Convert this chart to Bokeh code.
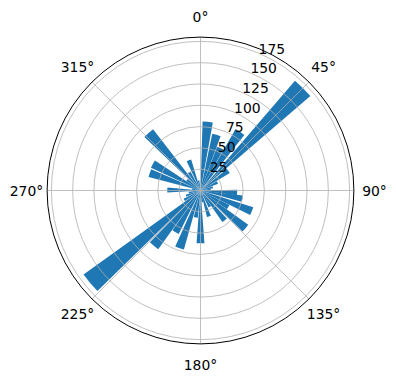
import numpy as np
from bokeh.plotting import figure
from bokeh.models import Range1d, ColumnDataSource
from bokeh.core.properties import value
from bokeh.embed import file_html
from bokeh.resources import INLINE

# compass direction of each bar (degrees, clockwise from north) and bar length
directions = [6, 16, 25, 34, 45, 55, 65, 75, 85, 93, 101, 112, 121, 130, 141, 150, 162, 170,
              180, 190, 200, 211, 220, 230, 240, 250, 260, 271, 280, 289, 299, 308, 318, 328, 339, 349]
counts = [81, 68, 55, 83, 170, 40, 22, 15, 12, 43, 50, 65, 38, 69, 45, 22, 32, 14,
          62, 32, 72, 57, 85, 169, 22, 18, 14, 39, 10, 63, 64, 20, 91, 25, 38, 12]
bar_width_deg = 8.6

r_ticks = [25, 50, 75, 100, 125, 150, 175]
r_max = 180
theta_ticks = [0, 45, 90, 135, 180, 225, 270, 315]
theta_labels = ["0°", "45°", "90°", "135°", "180°", "225°", "270°", "315°"]

FONT = "DejaVu Sans"
BLUE = "#1f77b4"
GRID = "#b0b0b0"

W, H = 396, 380
scale = 153.4 / r_max          # px per data unit
cx, cy = 200, 190              # centre in px
p = figure(width=W, height=H, output_backend="svg", toolbar_location=None,
           x_range=Range1d(-cx / scale, (W - cx) / scale),
           y_range=Range1d(-(H - cy) / scale, cy / scale),
           min_border=0, min_border_left=0, min_border_right=0,
           min_border_top=0, min_border_bottom=0)
p.axis.visible = False
p.grid.visible = False
p.outline_line_color = None
p.background_fill_color = "white"

d = np.array(directions, dtype=float)
half = bar_width_deg / 2
start = np.deg2rad(90 - (d + half))
end = np.deg2rad(90 - (d - half))
src = ColumnDataSource(dict(x=np.zeros(len(d)), y=np.zeros(len(d)), r=counts,
                            s=start, e=end))
p.wedge(x="x", y="y", radius="r", start_angle="s", end_angle="e", direction="anticlock",
        source=src, fill_color=BLUE, line_color=None)

# grid rings
p.circle(x=[0] * len(r_ticks), y=[0] * len(r_ticks), radius=r_ticks,
         fill_color=None, line_color=GRID, line_width=0.8)
# radial grid lines
ta = np.deg2rad(90 - np.array(theta_ticks, dtype=float))
p.segment(x0=np.zeros(len(ta)), y0=np.zeros(len(ta)),
          x1=r_max * np.cos(ta), y1=r_max * np.sin(ta),
          line_color=GRID, line_width=0.8)
# outer spine
p.circle(x=[0], y=[0], radius=[r_max], fill_color=None, line_color="black", line_width=1)

# angle labels
lab_r = 174 / scale
p.text(x=lab_r * np.cos(ta), y=lab_r * np.sin(ta), text=theta_labels,
       text_align="center", text_baseline="middle",
       text_font=value(FONT), text_font_size="13.9px", text_color="black")

# radial tick labels along 22.5°
ra = np.deg2rad(90 - 22.5)
rt = np.array(r_ticks, dtype=float)
p.text(x=rt * np.cos(ra), y=rt * np.sin(ra), text=[str(v) for v in r_ticks],
       text_align="left", text_baseline="bottom", x_offset=1, y_offset=1,
       text_font=value(FONT), text_font_size="13.9px", text_color="black")

open("out.html", "w").write(file_html(p, INLINE))
